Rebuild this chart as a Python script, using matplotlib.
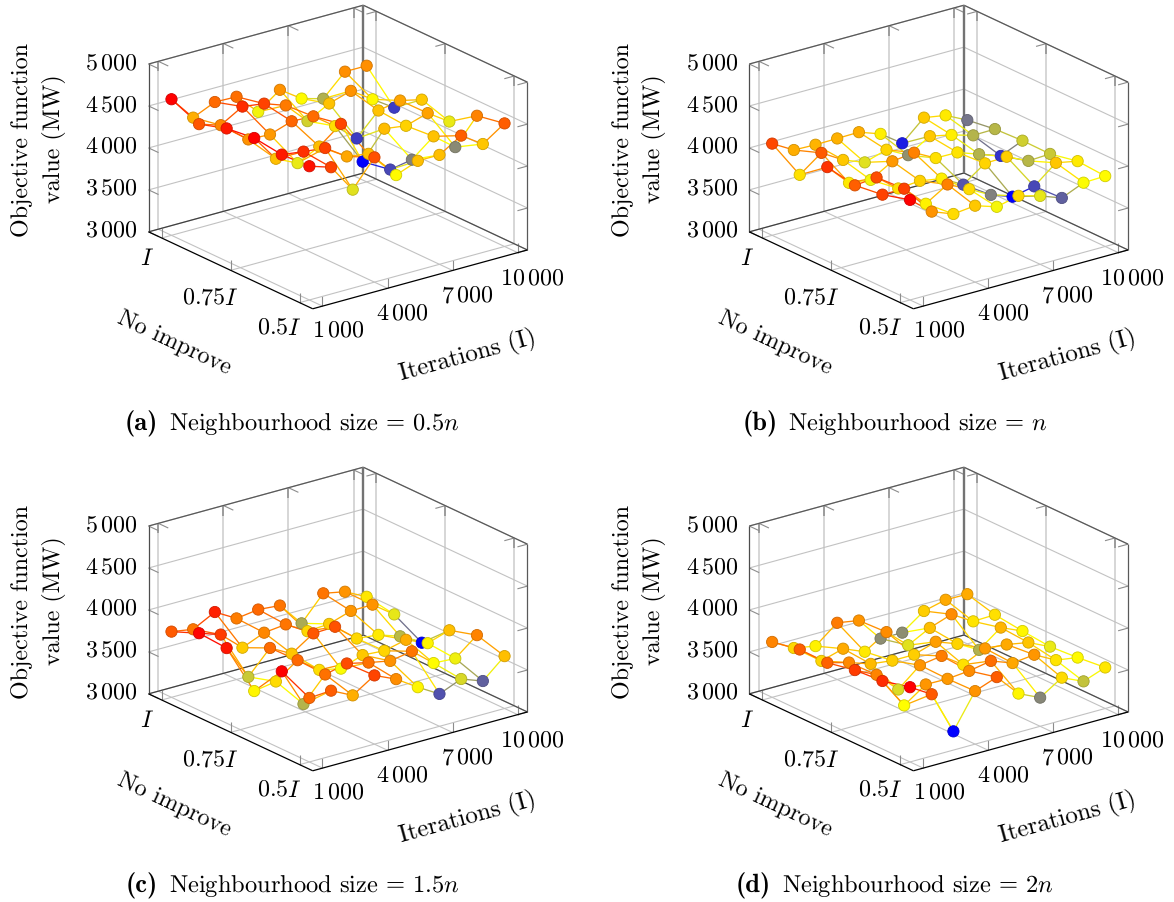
import numpy as np
import matplotlib
matplotlib.use("Agg")
import matplotlib.pyplot as plt
from matplotlib.colors import LinearSegmentedColormap, Normalize
from mpl_toolkits.mplot3d.art3d import Line3DCollection

plt.rcParams["font.family"] = "cmr10"
plt.rcParams["mathtext.fontset"] = "cm"
plt.rcParams["axes.unicode_minus"] = False
plt.rcParams["text.hinting"] = "no_hinting"
plt.rcParams["text.hinting_factor"] = 1

# Data
iterations = [1000, 2000, 3000, 4000, 5000, 6000, 7000, 8000, 9000, 10000]
no_improve = [1.0, 0.9, 0.8, 0.7, 0.6, 0.5]

z_a = [
    [4622, 4332, 4447, 4439, 4189, 4380, 4205, 4133, 4384, 4384],
    [4479, 4396, 4547, 4511, 4419, 4161, 4300, 4380, 4209, 4038],
    [4582, 4380, 4368, 4455, 4443, 4256, 4038, 4300, 4348, 4288],
    [4622, 4304, 4181, 4308, 4507, 3986, 4308, 4272, 4352, 4181],
    [4578, 4543, 4515, 4344, 4304, 4046, 4093, 4300, 4101, 4404],
    [4594, 4511, 4173, 4487, 4205, 4304, 4304, 4463, 4292, 4467],
]
z_b = [
    [4093, 3946, 3938, 3942, 3946, 3855, 3672, 3907, 3863, 3736],
    [3875, 4066, 3911, 3811, 3891, 3755, 3911, 3855, 3779, 3783],
    [4121, 3863, 3827, 3978, 4010, 3875, 3871, 3779, 3688, 3799],
    [4058, 4081, 3879, 3899, 3855, 3712, 3895, 3903, 3783, 3795],
    [4101, 4101, 3851, 4010, 3883, 3744, 3652, 3704, 3914, 3863],
    [4193, 3982, 3883, 3911, 3827, 3887, 3815, 3720, 3831, 3839],
]
z_c = [
    [3783, 3740, 3875, 3728, 3763, 3740, 3457, 3744, 3692, 3561],
    [3918, 3831, 3604, 3712, 3740, 3588, 3604, 3688, 3692, 3505],
    [3895, 3481, 3755, 3616, 3787, 3795, 3584, 3557, 3469, 3322],
    [3537, 3580, 3763, 3577, 3521, 3612, 3592, 3652, 3541, 3624],
    [3926, 3465, 3747, 3807, 3747, 3696, 3740, 3529, 3513, 3720],
    [3763, 3779, 3652, 3819, 3704, 3537, 3386, 3493, 3398, 3624],
]
z_d = [
    [3660, 3517, 3469, 3676, 3632, 3346, 3346, 3533, 3596, 3592],
    [3724, 3517, 3592, 3485, 3648, 3421, 3557, 3648, 3493, 3501],
    [3720, 3652, 3565, 3533, 3533, 3616, 3521, 3378, 3573, 3461],
    [3787, 3660, 3414, 3632, 3672, 3497, 3620, 3596, 3549, 3429],
    [3811, 3449, 3628, 3624, 3648, 3696, 3600, 3628, 3493, 3453],
    [3891, 3736, 3223, 3632, 3728, 3461, 3342, 3509, 3394, 3489],
]

x_ticks = [1000, 4000, 7000, 10000]
x_tick_labels = [r"$1\,000$", r"$4\,000$", r"$7\,000$", r"$10\,000$"]
y_ticks = [0.5, 0.75, 1.0]
y_tick_labels = [r"$0.5I$", r"$0.75I$", r"$I$"]
z_ticks = [3000, 3500, 4000, 4500, 5000]
z_tick_labels = [r"$3\,000$", r"$3\,500$", r"$4\,000$", r"$4\,500$", r"$5\,000$"]
caption_tags = ["(a)", "(b)", "(c)", "(d)"]
captions = [
    r"Neighbourhood size = $0.5n$",
    r"Neighbourhood size = $n$",
    r"Neighbourhood size = $1.5n$",
    r"Neighbourhood size = $2n$",
]
caption_left = [169.4, 187.6, 169.4, 181]

W, H = 1174, 903
xlim = (550, 10450)
ylim = (0.4524, 1.0476)
zlim = (3000, 5000)
AX_SIZE = 410
TICK_FS = 17.3
CAP_FS = 17.6

cmap = LinearSegmentedColormap.from_list(
    "bluered", [(0, 0, 1), (1, 1, 0), (1, 0.5, 0), (1, 0, 0)])


def line3d(ax, p0, p1, color, lw, zorder=1):
    ax.plot([p0[0], p1[0]], [p0[1], p1[1]], [p0[2], p1[2]],
            color=color, lw=lw, zorder=zorder, solid_capstyle="butt")


def draw_box(ax):
    x0, x1 = xlim
    y0, y1 = ylim
    z0, z1 = zlim
    grid = "0.76"
    tick = "0.55"
    gw = 0.8
    tw = 0.8
    dx = 460
    dy = 0.036
    dz = 120

    for x in x_ticks:
        line3d(ax, (x, y0, z0), (x, y1, z0), grid, gw)
        line3d(ax, (x, y1, z0), (x, y1, z1), "0.8", 1.1)
        line3d(ax, (x, y0, z0), (x, y0, z0 + dz), tick, tw)
        line3d(ax, (x, y1, z1), (x, y1, z1 - dz), tick, 1.1)
        line3d(ax, (x, y1, z1), (x, y1 - dy, z1), tick, tw)
    for y in y_ticks:
        line3d(ax, (x0, y, z0), (x1, y, z0), grid, gw)
        line3d(ax, (x1, y, z0), (x1, y, z1), "0.8", 1.1)
        line3d(ax, (x0, y, z0), (x0, y, z0 + dz), tick, tw)
        line3d(ax, (x1, y, z1), (x1, y, z1 - dz), tick, 1.1)
        line3d(ax, (x1, y, z1), (x1 - dx, y, z1), tick, tw)
    for z in z_ticks:
        line3d(ax, (x0, y1, z), (x1, y1, z), grid, gw)
        line3d(ax, (x1, y1, z), (x1, y0, z), grid, gw)
        line3d(ax, (x0, y1, z), (x0, y1 - dy, z), tick, tw)
        line3d(ax, (x1, y0, z), (x1 - dx, y0, z), tick, tw)

    # frame
    line3d(ax, (x0, y1, z0), (x1, y1, z0), "0.25", 0.9, 1.5)
    line3d(ax, (x1, y1, z0), (x1, y0, z0), "0.3", 0.9, 1.5)
    line3d(ax, (x0, y1, z1), (x1, y1, z1), "0.35", 0.9, 1.5)
    line3d(ax, (x1, y1, z1), (x1, y0, z1), "0.35", 0.9, 1.5)
    line3d(ax, (x0, y1, z0), (x0, y1, z1), "0.3", 0.9, 1.5)
    line3d(ax, (x1, y0, z0), (x1, y0, z1), "0.35", 0.9, 1.5)
    line3d(ax, (x1, y1, z0), (x1, y1, z1), "0.45", 1.7, 1.5)
    line3d(ax, (x0, y1, z0), (x0, y0, z0), "black", 0.9, 1.5)
    line3d(ax, (x0, y0, z0), (x1, y0, z0), "black", 0.9, 1.5)


def draw_surface(ax, z):
    z = np.array(z, dtype=float)
    norm = Normalize(z.min(), z.max())
    segs = []
    vals = []
    for j in range(len(no_improve)):
        for i in range(len(iterations)):
            if i + 1 < len(iterations):
                segs.append([(iterations[i], no_improve[j], z[j, i]),
                             (iterations[i + 1], no_improve[j], z[j, i + 1])])
                vals.append((z[j, i] + z[j, i + 1]) / 2)
            if j + 1 < len(no_improve):
                segs.append([(iterations[i], no_improve[j], z[j, i]),
                             (iterations[i], no_improve[j + 1], z[j + 1, i])])
                vals.append((z[j, i] + z[j + 1, i]) / 2)
    lc = Line3DCollection(segs, colors=cmap(norm(np.array(vals))), linewidths=0.95, zorder=2)
    ax.add_collection3d(lc)

    # later rows sit on top of earlier ones
    for j, y in enumerate(no_improve):
        cols = cmap(norm(z[j]))
        edges = cols.copy()
        edges[:, :3] = edges[:, :3] * 0.82
        ax.scatter(iterations, [y] * len(iterations), z[j], c=cols, edgecolors=edges,
                   s=66, linewidths=0.6, depthshade=False, zorder=3 + j)


def fig_text(px, py, s, **kw):
    kw.setdefault("ha", "center")
    return fig.text(px / W, 1 - py / H, s, va="center", **kw)


def draw_labels(ox, oy, tag, caption, cap_left):
    for zt, lab in zip(z_ticks, z_tick_labels):
        fig_text(ox + 137.7, oy + 231.7 - (zt - 3000) * 0.0838, lab, ha="right", fontsize=TICK_FS)
    for (px, py), lab in zip([(279.4, 328), (210.2, 298), (146.8, 259)], y_tick_labels):
        fig_text(ox + px, oy + py, lab, fontsize=TICK_FS)
    for (px, py), lab in zip([(338.8, 331), (402.6, 314), (467, 296), (531.9, 279)], x_tick_labels):
        fig_text(ox + px, oy + py, lab, fontsize=TICK_FS)
    fig_text(ox + 22, oy + 140, "Objective function", rotation=90, fontsize=TICK_FS)
    fig_text(ox + 53.8, oy + 139, "value (MW)", rotation=90, fontsize=TICK_FS)
    fig_text(ox + 174, oy + 343, "No improve", rotation=-25, fontsize=TICK_FS)
    fig_text(ox + 467.4, oy + 355, "Iterations (I)", rotation=15.3, fontsize=17.9)
    fig_text(ox + cap_left - 28, oy + 424, tag, family="cmb10", fontsize=19)
    fig_text(ox + cap_left, oy + 424, caption, ha="left", fontsize=CAP_FS)


fig = plt.figure(figsize=(W / 100, H / 100), dpi=100)

panels = [(z_a, 0, 0), (z_b, 600.67, 0), (z_c, 0, 462), (z_d, 600.67, 462)]
for k, (z, ox, oy) in enumerate(panels):
    # axes placed so that the box centre lands on the reference position
    left = ox + 338 - 0.5135 * AX_SIZE
    top = oy + 158 - 0.4865 * AX_SIZE
    ax = fig.add_axes([left / W, 1 - (top + AX_SIZE) / H, AX_SIZE / W, AX_SIZE / H],
                      projection="3d", computed_zorder=False)
    ax.set_proj_type("ortho")
    ax.view_init(elev=21, azim=-127.4)
    ax.set_box_aspect((270, 270, 179.6))
    ax.set_xlim(*xlim)
    ax.set_ylim(*ylim)
    ax.set_zlim(*zlim)
    ax.set_axis_off()
    draw_box(ax)
    draw_surface(ax, z)
    draw_labels(ox, oy, caption_tags[k], captions[k], caption_left[k])

fig.savefig("out.png", dpi=100)
